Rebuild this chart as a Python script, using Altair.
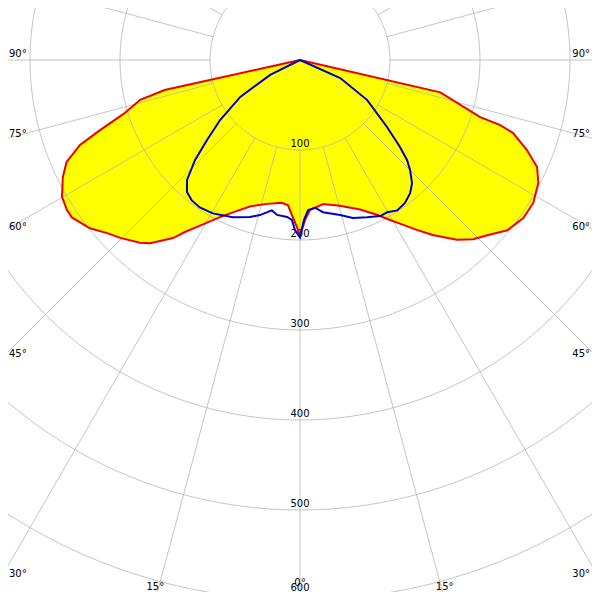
import altair as alt
import pandas as pd
import numpy as np

# ---- data (cd/klm), signed gamma: negative = left half ----
red_gamma = [-90, -77.5, -76, -73, -70.7, -68.9, -66.4, -63.7, -60.1, -57.2, -55.4,
             -51.3, -48.1, -45.3, -41.2, -39.3, -35.5, -33.8, -31.1, -27.0, -23.8,
             -18.9, -12.9, -7.2, -4.7, -2.6, -1.0, 0,
             1.8, 3.8, 9.1, 15.3, 21.9, 26.4, 29.4, 31.4, 34.5, 37.2,
             41.1, 44.0, 46.9, 50.6, 54.7, 58.5, 62.7, 65.7, 68.4, 71.1,
             72.0, 72.4, 77, 90]
red_I = [0, 154, 183, 205, 235, 262, 283, 294, 305, 308, 308,
         299, 288, 281, 270, 263, 243, 230, 215, 196, 185,
         172, 164, 160, 162, 175, 186, 195,
         178, 167, 162, 168, 179, 192, 204, 213, 229, 244,
         265, 277, 285, 298, 304, 304, 298, 289, 271, 250,
         234, 210, 160, 0]

blue_gamma = [-90, -63.4, -58.3, -53.1, -49.3, -46.4, -43.3, -40.6, -37.6, -34.2,
              -29.6, -23.1, -17.7, -14.5, -10.6, -8.4, -4.7, -2.9, -1.7, 0,
              1.4, 3.1, 5.8, 8.6, 14.5, 18.5, 23.1, 27.2, 29.8, 32.9,
              36.3, 39.6, 42.3, 45.0, 46.9, 49.0, 52.4, 59.2, 65.8, 90]
blue_I = [0, 37, 78, 111, 136, 161, 183, 193, 197, 198,
          196, 190, 183, 178, 170, 174, 175, 178, 189, 197,
          178, 167, 165, 171, 178, 185, 190, 195, 195, 199,
          197, 192, 185, 173, 163, 147, 122, 87, 49, 0]

ring_values = [100, 200, 300, 400, 500, 600, 700]
ring_labels = ["100", "200", "300", "400", "500"]
last_ring_label = ["600"]
side_angles = [90, 75, 60, 45, 30]
bottom_angles = [15, -15]
center_angle = ["0°"]

# ---- geometry of the view (0.9 px per cd/klm, centre 292 px from left) ----
W = H = 584
xs = alt.Scale(domain=[-324.44, 324.44], nice=False, zero=False)
ys = alt.Scale(domain=[-591.11, 57.78], nice=False, zero=False)
X = lambda f: alt.X(f, type="quantitative", scale=xs, axis=None)
Y = lambda f: alt.Y(f, type="quantitative", scale=ys, axis=None)

POL_X = "datum.I*sin(datum.g*PI/180)"
POL_Y = "-datum.I*cos(datum.g*PI/180)"


def curve(g, I):
    return alt.Chart(pd.DataFrame({"g": g, "I": I, "i": range(len(g))})).transform_calculate(
        px=POL_X, py=POL_Y)


red = curve(red_gamma, red_I)
blue = curve(blue_gamma, blue_I)

fill = red.mark_line(fill="#ffff00", strokeOpacity=0, clip=True).encode(
    x=X("px"), y=Y("py"), order="i:Q")
red_line = red.mark_line(color="#ee0000", strokeWidth=2, clip=True).encode(
    x=X("px"), y=Y("py"), order="i:Q")
blue_line = blue.mark_line(color="#0000c8", strokeWidth=2, clip=True).encode(
    x=X("px"), y=Y("py"), order="i:Q")

# grid rings
t = np.arange(0, 361, 2)
rings_df = pd.DataFrame([{"r": r, "g": a, "I": r, "k": k} for r in ring_values for k, a in enumerate(t)])
grid_col = "#b0b0b0"
rings = alt.Chart(rings_df).transform_calculate(px=POL_X, py=POL_Y).mark_line(
    color=grid_col, opacity=0.75, strokeWidth=1, clip=True).encode(
    x=X("px"), y=Y("py"), detail="r:N", order="k:Q")

# spokes every 15 degrees, starting at ring 100
sp = pd.DataFrame({"g": np.arange(0, 360, 15)})
spokes = alt.Chart(sp).transform_calculate(
    x1="100*sin(datum.g*PI/180)", y1="-100*cos(datum.g*PI/180)",
    x2="1000*sin(datum.g*PI/180)", y2="-1000*cos(datum.g*PI/180)").mark_rule(
    color=grid_col, opacity=0.75, strokeWidth=1, clip=True).encode(
    x=X("x1"), y=Y("y1"), x2="x2:Q", y2="y2:Q")

font = "DejaVu Sans"
FS = 10
# ring labels
rl = pd.DataFrame({"t": ring_labels, "v": [int(s) for s in ring_labels]})
ring_text = alt.Chart(rl).transform_calculate(px="0", py="-datum.v").mark_text(
    font=font, fontSize=FS, color="black", align="center", baseline="alphabetic", dy=-3).encode(
    x=X("px"), y=Y("py"), text="t:N")
rl2 = pd.DataFrame({"t": last_ring_label, "v": [int(s) for s in last_ring_label]})
ring_text2 = alt.Chart(rl2).transform_calculate(px="0", py="-datum.v").mark_text(
    font=font, fontSize=FS, color="black", align="center", baseline="alphabetic", dy=-9).encode(
    x=X("px"), y=Y("py"), text="t:N")

# angle labels on left / right edges
XE = 333.33
left_df = pd.DataFrame({"t": [f"{a}°" for a in side_angles],
                        "px": [-XE] * len(side_angles),
                        "py": [-XE / np.tan(np.radians(a)) if a != 90 else 0 for a in side_angles]})
right_df = left_df.assign(px=XE)
left_text = alt.Chart(left_df).mark_text(font=font, fontSize=FS, color="black", align="left",
                                         baseline="alphabetic", dx=9, dy=-3).encode(
    x=X("px"), y=Y("py"), text="t:N")
right_text = alt.Chart(right_df).mark_text(font=font, fontSize=FS, color="black", align="right",
                                           baseline="alphabetic", dx=-10, dy=-3).encode(
    x=X("px"), y=Y("py"), text="t:N")
bot_df = pd.DataFrame({"t": [f"{abs(a)}°" for a in bottom_angles],
                       "px": [-600 * np.tan(np.radians(a)) for a in bottom_angles],
                       "py": [-600] * len(bottom_angles)})
bot_text = alt.Chart(bot_df).mark_text(font=font, fontSize=FS, color="black", align="center",
                                       baseline="alphabetic", dy=-10).encode(
    x=X("px"), y=Y("py"), text="t:N")
c_df = pd.DataFrame({"t": center_angle, "px": [0], "py": [-600]})
c_text = alt.Chart(c_df).mark_text(font=font, fontSize=FS, color="black", align="center",
                                   baseline="alphabetic", dy=-14).encode(
    x=X("px"), y=Y("py"), text="t:N")

chart = alt.layer(fill, rings, spokes, ring_text, ring_text2, left_text, right_text, bot_text,
                  c_text, red_line, blue_line).properties(
    width=W, height=H, padding=0, autosize="none", background="white"
).configure_view(stroke="transparent")

chart.save("out.html", embed_options={"renderer": "svg", "actions": False})
